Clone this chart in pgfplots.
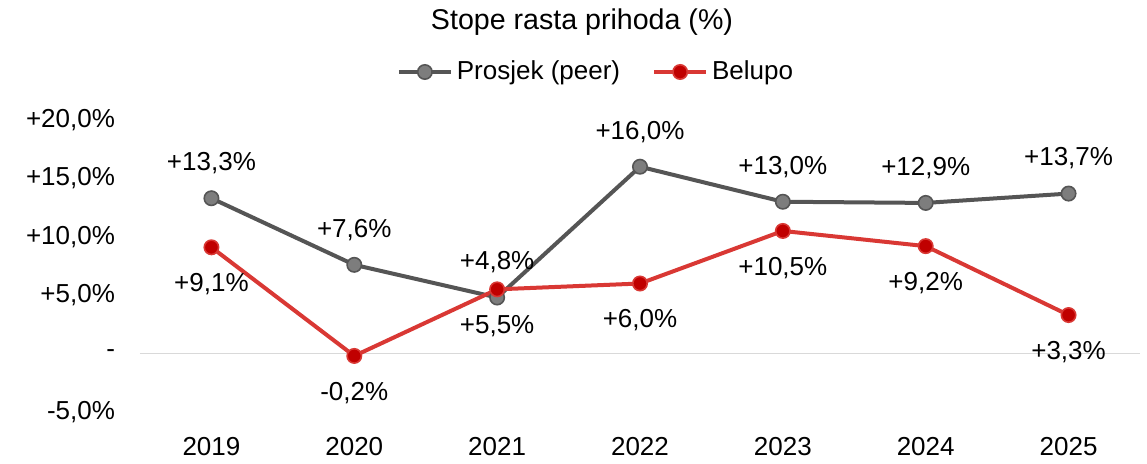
\documentclass[border=0pt]{standalone}
\usepackage{fontspec}
\setmainfont{Liberation Sans}
\usepackage{pgfplots}
\pgfplotsset{compat=1.18}
\definecolor{peerline}{RGB}{85,85,85}
\definecolor{peerfill}{RGB}{125,125,125}
\definecolor{redline}{RGB}{217,56,52}
\definecolor{redfill}{RGB}{192,0,0}
\definecolor{zeroline}{RGB}{217,217,217}
\begin{document}
\fontsize{13pt}{15pt}\selectfont
\begin{tikzpicture}
\useasboundingbox (-70pt,-26pt) rectangle (503.5pt,206pt);
\begin{axis}[
  at={(0,0)}, anchor=south west,
  scale only axis,
  width=500pt, height=146pt,
  xmin=-0.5, xmax=6.5,
  ymin=-5, ymax=20,
  axis line style={draw=none},
  major tick length=0pt,
  xtick={0,1,2,3,4,5,6},
  xticklabels={2019,2020,2021,2022,2023,2024,2025},
  ytick={-5,0,5,10,15,20},
  yticklabels={{-5,0\%},{-},{+5,0\%},{+10,0\%},{+15,0\%},{+20,0\%}},
  /pgf/number format/assume math mode=true,
  ticklabel style={font=\fontsize{13pt}{15pt}\selectfont},
  xticklabel style={yshift=-8pt},
  yticklabel style={xshift=-8pt},
  clip=false,
  legend columns=2,
  legend style={draw=none, fill=none, at={(rel axis cs:0.457,1)}, anchor=center,
    yshift=24pt, font=\fontsize{13pt}{15pt}\selectfont,
    /tikz/every even column/.append style={column sep=14pt}},
  legend image code/.code={
    \draw[#1, mark=none] (0pt,0pt) -- (26pt,0pt);
    \draw[#1, only marks] plot coordinates {(13pt,0pt)};
  },
  nodes near coords,
  point meta=explicit symbolic,
  every node near coord/.append style={font=\fontsize{13pt}{15pt}\selectfont, anchor=center, text=black},
]
\addplot[color=zeroline, line width=0.8pt, forget plot, nodes near coords={}] coordinates {(-0.5,0) (6.5,0)};

\addplot[color=peerline, line width=2pt, mark=*, mark size=3.6pt,
  mark options={fill=peerfill, draw=peerline, line width=0.8pt},
  every node near coord/.append style={yshift=17.5pt}]
  coordinates {
  (0,13.3) [+13,3\%]
  (1,7.6)  [+7,6\%]
  (2,4.8)  [+4,8\%]
  (3,16.0) [+16,0\%]
  (4,13.0) [+13,0\%]
  (5,12.9) [+12,9\%]
  (6,13.7) [+13,7\%]
  };
\addlegendentry{Prosjek (peer)}

\addplot[color=redline, line width=2pt, mark=*, mark size=3.6pt,
  mark options={fill=redfill, draw=redline, line width=0.8pt},
  every node near coord/.append style={yshift=-18.5pt}]
  coordinates {
  (0,9.1)  [+9,1\%]
  (1,-0.2) [-0,2\%]
  (2,5.5)  [+5,5\%]
  (3,6.0)  [+6,0\%]
  (4,10.5) [+10,5\%]
  (5,9.2)  [+9,2\%]
  (6,3.3)  [+3,3\%]
  };
\addlegendentry{Belupo}

\node[font=\fontsize{14.3pt}{16pt}\selectfont] at ([yshift=49pt]rel axis cs:0.442,1) {Stope rasta prihoda (\%)};
\end{axis}
\end{tikzpicture}
\end{document}
